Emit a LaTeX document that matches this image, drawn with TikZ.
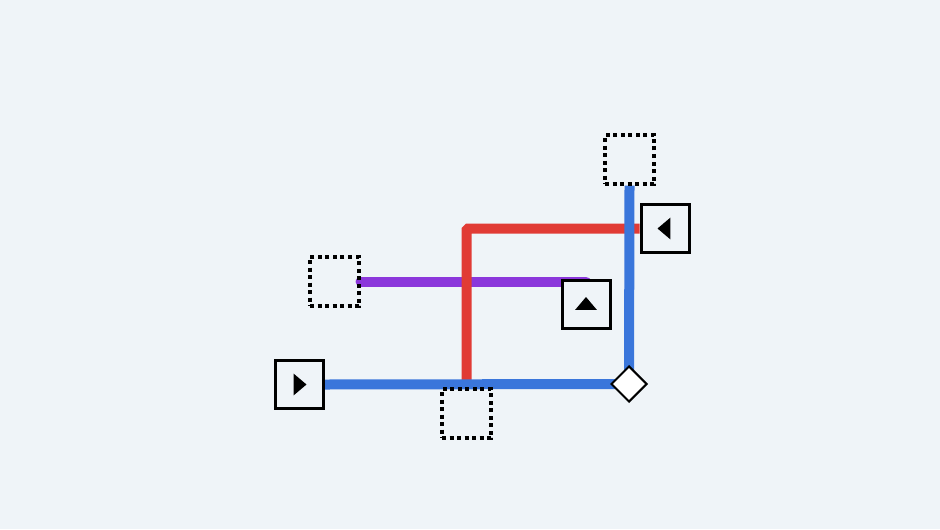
\documentclass[tikz,border=0pt]{standalone}
\usetikzlibrary{shapes.geometric}
\definecolor{bgcol}{HTML}{EFF4F8}
\definecolor{wireblue}{HTML}{3A76DB}
\definecolor{wirered}{HTML}{E13B35}
\definecolor{wirepurple}{HTML}{8B37DB}
\pgfdeclarelayer{bg}
\pgfdeclarelayer{wires}
\pgfsetlayers{bg,wires,main}
\tikzset{
  slot/.style={draw, line width=0.065cm, dash pattern=on 0.08cm off 0.07cm,
    minimum size=0.98cm, inner sep=0pt},
  pusher/.style={draw, line width=0.06cm, fill=bgcol, minimum size=0.96cm,
    inner sep=0pt, path picture={
      \fill[black] (path picture bounding box.center) +(#1:0.15cm)
        -- +(#1+116:0.24cm) -- +(#1+244:0.24cm) -- cycle;}},
  joint/.style={draw, diamond, fill=white, line width=0.04cm,
    minimum size=0.72cm, inner sep=0pt},
  wire/.style={line width=0.2cm}
}
\begin{document}
\begin{tikzpicture}
  \begin{pgfonlayer}{bg}
    \fill[bgcol] (0,0) rectangle (18.8,10.58);
  \end{pgfonlayer}

  \node[slot] (tslot) at (12.59,7.39) {};
  \node[slot] (lslot) at (6.69,4.95) {};
  \node[slot] (bslot) at (9.33,2.31) {};
  \node[pusher=180] (lpush) at (13.30,6.01) {};
  \node[pusher=90] (upush) at (11.72,4.49) {};
  \node[pusher=0] (rpush) at (5.98,2.89) {};
  \node[joint] (jn) at (12.58,2.9) {};

  \begin{pgfonlayer}{wires}
    \draw[wire, wirepurple, line cap=round] (lslot.east) -- (lslot.east -| upush.center);
    \draw[wire, wirered, rounded corners=1pt] (lpush.west) -| (bslot.north |- rpush.east);
    \draw[wire, wireblue] (rpush.east) -- (jn.center) -- (tslot.south);
  \end{pgfonlayer}
\end{tikzpicture}
\end{document}
